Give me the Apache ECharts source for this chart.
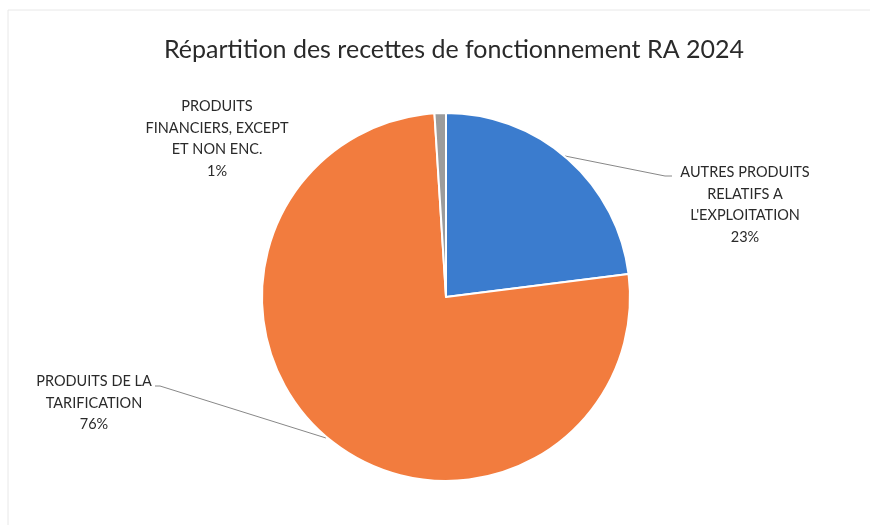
<!DOCTYPE html>
<html>
<head>
<meta charset="utf-8">
<script src="https://cdn.jsdelivr.net/npm/echarts@6/dist/echarts.min.js"></script>
<style>
    html, body { margin: 0; padding: 0; background: #fff; }
    #chart { width: 870px; height: 525px; }
</style>
</head>
<body>
<div id="chart"></div>
<script>
// categories and shares (%)
const categories = [
    "AUTRES PRODUITS\nRELATIFS A\nL'EXPLOITATION",
    'PRODUITS DE LA\nTARIFICATION',
    'PRODUITS\nFINANCIERS, EXCEPT\nET NON ENC.'
];
const shares = [23, 76, 1];
const colors = ['#3b7cce', '#f27c3e', '#9c9c9c'];

// where each label sits, and its leader line (null = no line)
const labelSpots = [
    { x: 745, y: 205, line: [[565, 156], [665, 176], [672, 176]] },
    { x: 94, y: 403, line: [[326, 438], [160, 386], [155, 386]] },
    { x: 217, y: 139, line: null }
];

const chart = echarts.init(document.getElementById('chart'));
chart.setOption({
    backgroundColor: '#fff',
    animation: false,
    title: {
        text: 'Répartition des recettes de fonctionnement RA 2024',
        left: 159,
        top: 32,
        textStyle: { fontFamily: 'Lato', fontSize: 25, fontWeight: 'normal', color: '#2a2a2a' }
    },
    graphic: [{
        type: 'rect',
        shape: { x: 8, y: 10, width: 900, height: 600 },
        style: { fill: 'none', stroke: '#e8e8e8', lineWidth: 1 },
        silent: true
    }],
    series: [{
        type: 'pie',
        center: [446, 297],
        radius: 184,
        startAngle: 90,
        clockwise: true,
        data: categories.map((name, i) => ({
            name: name,
            value: shares[i],
            itemStyle: { color: colors[i] },
            labelLine: { show: labelSpots[i].line !== null }
        })),
        itemStyle: { borderColor: '#fff', borderWidth: 2 },
        label: {
            formatter: '{b}\n{d}%',
            fontFamily: 'Lato',
            fontSize: 14.5,
            color: '#2a2a2a',
            lineHeight: 21.5,
            align: 'center'
        },
        labelLine: { lineStyle: { color: '#888', width: 1 } },
        labelLayout: function (params) {
            const spot = labelSpots[params.dataIndex];
            const out = { x: spot.x, y: spot.y, align: 'center', verticalAlign: 'middle' };
            if (spot.line) out.labelLinePoints = spot.line;
            return out;
        }
    }]
});
</script>
</body>
</html>
